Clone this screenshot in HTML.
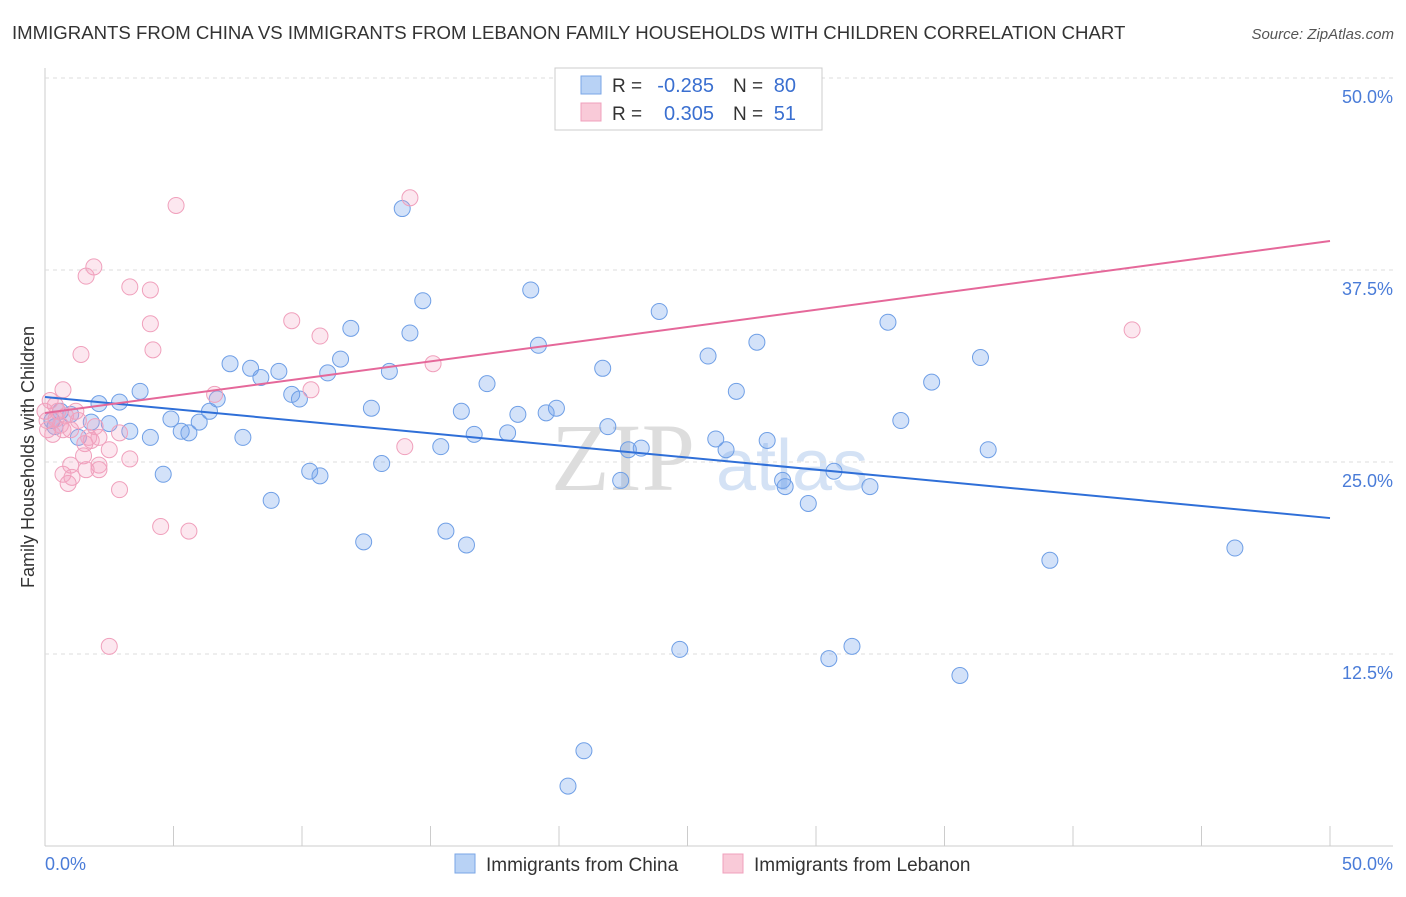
<!DOCTYPE html>
<html><head><meta charset="utf-8"><style>
body{margin:0;background:#fff;font-family:"Liberation Sans",sans-serif}
</style></head><body>
<svg id="c" width="1406" height="892" xmlns="http://www.w3.org/2000/svg">
<text x="12" y="39" font-size="18.6" fill="#333">IMMIGRANTS FROM CHINA VS IMMIGRANTS FROM LEBANON FAMILY HOUSEHOLDS WITH CHILDREN CORRELATION CHART</text>
<text x="1394" y="39" font-size="15" fill="#555" font-style="italic" text-anchor="end">Source: ZipAtlas.com</text>
<text x="695" y="490" font-size="96" fill="#ddd" text-anchor="end" font-family="Liberation Serif">ZIP</text>
<text x="716" y="490" font-size="72" fill="#d4e2f5">atlas</text>
<g id="grid"></g><g id="pts"></g><g id="lines"></g>
<text transform="translate(34,457) rotate(-90)" font-size="18" fill="#333" text-anchor="middle">Family Households with Children</text>
<text x="45" y="870" font-size="18" fill="#4a7cd8">0.0%</text>
<text x="1393" y="870" font-size="18" fill="#4a7cd8" text-anchor="end">50.0%</text>
<g>
<rect x="555" y="68" width="267" height="62" fill="#fff" stroke="#ccc"/>
<rect x="581" y="76" width="20" height="18" fill="#b8d2f5" stroke="#7aa6e6"/>
<rect x="581" y="103" width="20" height="18" fill="#f9cad8" stroke="#f0a0bc"/>
<text x="612" y="92" font-size="19" fill="#333">R =</text>
<text x="714" y="92" font-size="20" fill="#3a6fd0" text-anchor="end">-0.285</text>
<text x="733" y="92" font-size="19" fill="#333">N =</text>
<text x="796" y="92" font-size="20" fill="#3a6fd0" text-anchor="end">80</text>
<text x="612" y="120" font-size="19" fill="#333">R =</text>
<text x="714" y="120" font-size="20" fill="#3a6fd0" text-anchor="end">0.305</text>
<text x="733" y="120" font-size="19" fill="#333">N =</text>
<text x="796" y="120" font-size="20" fill="#3a6fd0" text-anchor="end">51</text>
</g>
<g>
<rect x="455" y="854" width="20" height="19" fill="#b8d2f5" stroke="#7aa6e6"/>
<text x="486" y="871" font-size="19" fill="#333">Immigrants from China</text>
<rect x="723" y="854" width="20" height="19" fill="#f9cad8" stroke="#f0a0bc"/>
<text x="754" y="871" font-size="19" fill="#333">Immigrants from Lebanon</text>
</g>
</svg>
<script>
const yTicks=[12.5,25,37.5,50];
const chinaX=[13.9,18.9,14.7,23.9,32.8,11.9,14.2,19.2,27.7,25.8,36.4,7.2,8.0,9.1,11.5,11.0,13.4,21.7,8.4,17.2,34.5,3.7,26.9,2.1,2.9,6.7,9.6,9.9,12.7,16.2,18.4,19.5,19.9,6.4,4.9,6.0,33.3,0.6,1.0,1.8,2.5,3.3,4.1,5.3,5.6,7.7,16.7,18.0,21.9,26.1,28.1,15.4,22.7,23.2,26.5,36.7,1.3,4.6,10.3,10.7,13.1,22.4,28.7,28.8,30.7,32.1,29.7,8.8,15.6,12.4,16.4,39.1,46.3,24.7,31.4,30.5,35.6,20.97,20.35,0.27,0.39];
const chinaY=[41.5,36.2,35.5,34.8,34.1,33.7,33.4,32.6,32.8,31.9,31.8,31.4,31.1,30.9,31.7,30.8,30.9,31.1,30.5,30.1,30.2,29.6,29.6,28.8,28.9,29.1,29.4,29.1,28.5,28.3,28.1,28.2,28.5,28.3,27.8,27.6,27.7,28.3,28.1,27.6,27.5,27.0,26.6,27.0,26.9,26.6,26.8,26.9,27.3,26.5,26.4,26.0,25.8,25.9,25.8,25.8,26.6,24.2,24.4,24.1,24.9,23.8,23.8,23.4,24.4,23.4,22.3,22.5,20.5,19.8,19.6,18.6,19.4,12.8,13.0,12.2,11.1,6.2,3.9,27.7,27.3];
const lebX=[14.2,5.1,1.9,1.6,3.3,4.1,4.1,9.6,10.7,4.2,1.4,15.1,0.7,6.6,10.35,0.2,0.4,0.5,0.8,1.2,0.6,0.1,0.3,1.0,1.7,1.8,2.1,2.9,14.0,2.5,1.5,3.3,1.0,2.1,2.1,1.6,0.7,1.05,0.9,2.9,4.5,5.6,2.5,42.3,0,0.08,0.43,0.7,1.3,1.95,1.55];
const lebY=[42.2,41.7,37.7,37.1,36.4,36.2,34.0,34.2,33.2,32.3,32.0,31.4,29.7,29.4,29.7,29.0,28.7,28.3,28.0,28.3,27.4,27.1,26.8,27.1,26.6,26.4,26.6,26.9,26.0,25.8,25.4,25.2,24.8,24.8,24.5,24.5,24.2,24.0,23.6,23.2,20.8,20.5,13.0,33.6,28.3,27.7,27.8,27.1,27.7,27.3,26.2];
const chinaTrend=[29.23,21.35];
const lebTrend=[28.19,39.39];
const NS='http://www.w3.org/2000/svg';
const X=v=>45+v/50*1285, Y=v=>846-v/50*768;
function mk(t,a,p){const e=document.createElementNS(NS,t);for(const k in a)e.setAttribute(k,a[k]);p.appendChild(e);return e;}
const g=document.getElementById('grid');
const ax=mk('line',{x1:45,y1:68,x2:45,y2:846,stroke:'#ccc'},g);


const bx=mk('line',{x1:45,y1:846,x2:1393,y2:846,stroke:'#ccc'},g);


for(let i=0;i<=10;i++){const t=mk('line',{x1:X(i*5),y1:826,x2:X(i*5),y2:846,stroke:'#ccc'},g);

}
yTicks.forEach(v=>{const l=mk('line',{x1:45,y1:Y(v),x2:1393,y2:Y(v),stroke:'#ddd','stroke-dasharray':'4,4'},g);


const t=mk('text',{x:1393,y:Y(v)+25,'font-size':18,fill:'#4a7cd8','text-anchor':'end'},g);t.textContent=v.toFixed(1)+'%';

});
const p=document.getElementById('pts');
chinaX.forEach((v,i)=>{const c=mk('circle',{cx:X(v),cy:Y(chinaY[i]),r:8,fill:'rgba(110,160,235,0.3)',stroke:'#6f9fe6','stroke-width':1},p);

});
lebX.forEach((v,i)=>{const c=mk('circle',{cx:X(v),cy:Y(lebY[i]),r:8,fill:'rgba(245,160,190,0.25)',stroke:'#f0a0bc','stroke-width':1},p);

});
const L=document.getElementById('lines');
const a=mk('line',{x1:X(0),y1:Y(chinaTrend[0]),x2:X(50),y2:Y(chinaTrend[1]),stroke:'#2f6fd8','stroke-width':2},L);


const b=mk('line',{x1:X(0),y1:Y(lebTrend[0]),x2:X(50),y2:Y(lebTrend[1]),stroke:'#e5689a','stroke-width':2},L);


</script>
</body></html>
